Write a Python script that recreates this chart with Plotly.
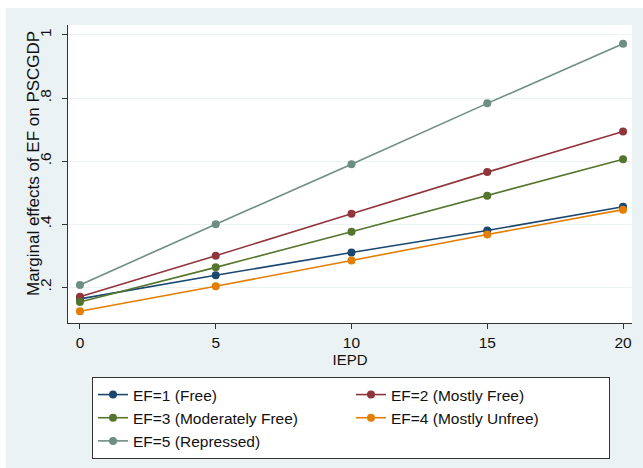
import plotly.graph_objects as go

iepd = [0, 5, 10, 15, 20]
ef1_free = [0.163, 0.238, 0.310, 0.380, 0.455]
ef2_mostly_free = [0.170, 0.300, 0.433, 0.565, 0.694]
ef3_moderately_free = [0.153, 0.263, 0.376, 0.490, 0.606]
ef4_mostly_unfree = [0.124, 0.203, 0.285, 0.367, 0.446]
ef5_repressed = [0.207, 0.400, 0.590, 0.783, 0.972]

series_names = ["EF=1 (Free)", "EF=2 (Mostly Free)", "EF=3 (Moderately Free)",
                "EF=4 (Mostly Unfree)", "EF=5 (Repressed)"]
series_values = [ef1_free, ef2_mostly_free, ef3_moderately_free, ef4_mostly_unfree, ef5_repressed]
colors = ["#1A476F", "#90353B", "#55752F", "#E37E00", "#6E8E84"]

y_tickvals = [0.2, 0.4, 0.6, 0.8, 1.0]
y_ticktext = [".2", ".4", ".6", ".8", "1"]
x_tickvals = [0, 5, 10, 15, 20]

FONT = "Liberation Sans, Arial, sans-serif"

fig = go.Figure()
for name, vals, c in zip(series_names, series_values, colors):
    fig.add_trace(go.Scatter(
        x=iepd, y=vals, name=name, mode="lines+markers",
        line=dict(color=c, width=1.6),
        marker=dict(color=c, size=8),
    ))

W, H = 643, 468
L, R, T, B = 68, 11, 25, 145
pw, ph = W - L - R, H - T - B

def px_x(p):
    return (p - L) / pw

def px_y(p):
    return (H - B - p) / ph

fig.update_layout(
    width=W, height=H,
    margin=dict(l=L, r=R, t=T, b=B, autoexpand=False),
    paper_bgcolor="white",
    plot_bgcolor="rgba(0,0,0,0)",
    font=dict(family=FONT, size=15, color="#111111"),
    showlegend=True,
    legend=dict(
        orientation="h",
        x=px_x(92), xanchor="left",
        y=px_y(377), yanchor="top",
        bgcolor="white", bordercolor="#333333", borderwidth=1,
        entrywidth=213, entrywidthmode="pixels",
        font=dict(family=FONT, size=15.5, color="#111111"),
        traceorder="normal",
    ),
    shapes=[
        dict(type="rect", xref="paper", yref="paper", layer="below",
             x0=px_x(6), x1=px_x(W + 2), y0=px_y(H + 2), y1=px_y(8),
             fillcolor="#EAF2F3", line=dict(width=0)),
        dict(type="rect", xref="paper", yref="paper", layer="below",
             x0=0, x1=1, y0=0, y1=1,
             fillcolor="white", line=dict(width=0)),
    ],
    annotations=[
        dict(text="Marginal effects of EF on PSCGDP", textangle=-90,
             xref="paper", yref="paper", x=px_x(33), y=px_y(164),
             xanchor="center", yanchor="middle", showarrow=False,
             font=dict(family=FONT, size=17, color="#111111")),
    ],
)

fig.update_xaxes(
    range=[-0.44, 20.33],
    tickvals=x_tickvals,
    ticks="outside", ticklen=5, tickcolor="#333333",
    showline=True, linecolor="#333333", linewidth=1,
    showgrid=False, zeroline=False,
    title=dict(text="IEPD", standoff=4, font=dict(size=15)),
    tickfont=dict(size=15.5),
)
fig.update_yaxes(
    range=[0.0866, 1.0315],
    tickvals=y_tickvals, ticktext=y_ticktext,
    tickangle=-90,
    ticks="outside", ticklen=5, tickcolor="#333333",
    ticklabelstandoff=5,
    showline=True, linecolor="#333333", linewidth=1,
    showgrid=True, gridcolor="#EAF2F3", gridwidth=1,
    zeroline=False,
    tickfont=dict(size=15.5),
)

fig.write_html("out.html")
